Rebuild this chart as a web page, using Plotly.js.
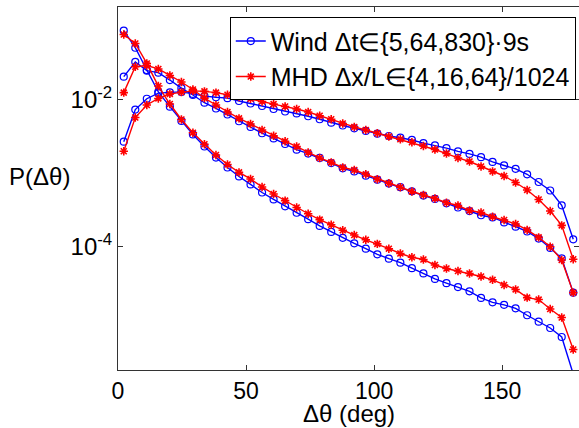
<!DOCTYPE html>
<html>
<head>
<meta charset="utf-8">
<script src="https://cdn.plot.ly/plotly-3.0.1.min.js"></script>
<style>html,body{margin:0;padding:0;background:#fff;}#chart{width:579px;height:428px;}</style>
</head>
<body>
<div id="chart"></div>
<script>
// Bin centres of the angle histogram (deg)
const dTheta = [2.25, 6.75, 11.25, 15.75, 20.25, 24.75, 29.25, 33.75, 38.25, 42.75,
  47.25, 51.75, 56.25, 60.75, 65.25, 69.75, 74.25, 78.75, 83.25, 87.75,
  92.25, 96.75, 101.25, 105.75, 110.25, 114.75, 119.25, 123.75, 128.25, 132.75,
  137.25, 141.75, 146.25, 150.75, 155.25, 159.75, 164.25, 168.75, 173.25, 177.75];

// Wind, lags 5, 64, 830 (x 9 s)
const wind5 = [8.81e-2, 5.16e-2, 2.56e-2, 1.29e-2, 8.11e-3, 5.18e-3, 3.39e-3, 2.32e-3, 1.64e-3, 1.20e-3,
  9.06e-4, 7.05e-4, 5.48e-4, 4.40e-4, 3.55e-4, 2.90e-4, 2.37e-4, 1.92e-4, 1.59e-4, 1.32e-4,
  1.11e-4, 9.38e-5, 7.87e-5, 6.85e-5, 6.04e-5, 5.08e-5, 4.32e-5, 3.63e-5, 3.18e-5, 2.81e-5,
  2.46e-5, 2.00e-5, 1.74e-5, 1.61e-5, 1.44e-5, 1.16e-5, 9.48e-6, 7.78e-6, 5.86e-6, 1.83e-6];
const wind64 = [2.08e-2, 3.30e-2, 2.51e-2, 2.36e-2, 1.87e-2, 1.45e-2, 1.17e-2, 9.18e-3, 7.66e-3, 6.34e-3,
  5.13e-3, 4.29e-3, 3.52e-3, 2.99e-3, 2.51e-3, 2.10e-3, 1.86e-3, 1.62e-3, 1.38e-3, 1.17e-3,
  1.06e-3, 9.29e-4, 8.18e-4, 7.24e-4, 6.47e-4, 5.69e-4, 4.97e-4, 4.47e-4, 3.90e-4, 3.42e-4,
  3.06e-4, 2.68e-4, 2.50e-4, 2.14e-4, 1.87e-4, 1.61e-4, 1.29e-4, 9.59e-5, 6.93e-5, 2.36e-5];
const wind830 = [2.70e-3, 7.41e-3, 1.04e-2, 1.24e-2, 1.27e-2, 1.29e-2, 1.21e-2, 1.13e-2, 1.09e-2, 1.06e-2,
  9.68e-3, 8.95e-3, 8.28e-3, 7.53e-3, 6.97e-3, 6.55e-3, 6.00e-3, 5.46e-3, 4.90e-3, 4.49e-3,
  4.11e-3, 3.78e-3, 3.47e-3, 3.23e-3, 3.06e-3, 2.85e-3, 2.58e-3, 2.40e-3, 2.21e-3, 1.99e-3,
  1.84e-3, 1.66e-3, 1.43e-3, 1.28e-3, 1.15e-3, 9.70e-4, 7.62e-4, 5.83e-4, 3.66e-4, 1.26e-4];

// MHD, separations 4, 16, 64 (/1024)
const mhd4 = [7.82e-2, 5.89e-2, 3.15e-2, 1.55e-2, 8.81e-3, 5.42e-3, 3.58e-3, 2.49e-3, 1.78e-3, 1.32e-3,
  1.03e-3, 8.38e-4, 6.52e-4, 5.22e-4, 4.24e-4, 3.42e-4, 2.81e-4, 2.34e-4, 1.99e-4, 1.67e-4,
  1.44e-4, 1.24e-4, 1.09e-4, 9.38e-5, 8.07e-5, 7.16e-5, 6.68e-5, 5.62e-5, 5.04e-5, 4.66e-5,
  4.31e-5, 3.92e-5, 3.53e-5, 3.00e-5, 2.61e-5, 2.02e-5, 1.90e-5, 1.41e-5, 1.08e-5, 3.96e-6];
const mhd16 = [1.26e-2, 2.84e-2, 2.95e-2, 2.65e-2, 2.16e-2, 1.76e-2, 1.39e-2, 1.06e-2, 8.55e-3, 6.85e-3,
  5.62e-3, 4.71e-3, 3.90e-3, 3.25e-3, 2.74e-3, 2.32e-3, 1.92e-3, 1.62e-3, 1.41e-3, 1.20e-3,
  1.11e-3, 9.70e-4, 8.30e-4, 7.31e-4, 6.46e-4, 5.65e-4, 5.06e-4, 4.54e-4, 3.97e-4, 3.64e-4,
  3.11e-4, 2.92e-4, 2.56e-4, 2.31e-4, 2.04e-4, 1.69e-4, 1.34e-4, 9.98e-5, 6.58e-5, 2.36e-5];
const mhd64 = [2.00e-3, 5.77e-3, 8.55e-3, 1.05e-2, 1.21e-2, 1.28e-2, 1.33e-2, 1.31e-2, 1.26e-2, 1.18e-2,
  1.10e-2, 1.04e-2, 9.55e-3, 8.77e-3, 8.15e-3, 7.53e-3, 6.85e-3, 6.10e-3, 5.46e-3, 4.79e-3,
  4.29e-3, 3.90e-3, 3.52e-3, 3.18e-3, 2.91e-3, 2.65e-3, 2.36e-3, 2.11e-3, 1.86e-3, 1.62e-3,
  1.45e-3, 1.24e-3, 1.06e-3, 9.20e-4, 7.50e-4, 5.93e-4, 4.40e-4, 3.06e-4, 1.95e-4, 6.73e-5];

const legendWind = 'Wind \u0394t\u2208{5,64,830}\u00b79s';
const legendMHD = 'MHD \u0394x/L\u2208{4,16,64}/1024';
const xTicks = [0, 50, 100, 150];
const yTicks = [1e-4, 1e-2];
const yTickText = ['10<sup>-4</sup>', '10<sup>-2</sup>'];

const BLUE = '#0000ff', RED = '#ff0000';
function windTrace(y, show) {
  return {x: dTheta, y: y, type: 'scatter', mode: 'lines+markers', name: legendWind,
    showlegend: show, legendgroup: 'wind',
    line: {color: BLUE, width: 1.4},
    marker: {symbol: 'circle-open', size: 7, color: BLUE, line: {color: BLUE, width: 1.2}}};
}
function mhdTrace(y, show) {
  return {x: dTheta, y: y, type: 'scatter', mode: 'lines+markers', name: legendMHD,
    showlegend: show, legendgroup: 'mhd',
    line: {color: RED, width: 1.4},
    marker: {symbol: 'asterisk-open', size: 7, color: RED, line: {color: RED, width: 1.6}}};
}
const data = [
  windTrace(wind5, true), windTrace(wind64, false), windTrace(wind830, false),
  mhdTrace(mhd4, true), mhdTrace(mhd16, false), mhdTrace(mhd64, false)
];

const axCol = '#333333';
const layout = {
  width: 579, height: 428,
  margin: {l: 118, r: 0, t: 7, b: 58, pad: 0},
  paper_bgcolor: '#ffffff', plot_bgcolor: '#ffffff',
  font: {family: '"Liberation Sans", Arial, sans-serif', size: 24, color: '#000'},
  xaxis: {range: [0, 180], tickvals: xTicks, ticks: 'inside', ticklen: 5, tickcolor: axCol,
    showline: true, linecolor: axCol, linewidth: 1, mirror: 'ticks', showgrid: false, zeroline: false,
    tickfont: {size: 23}},
  yaxis: {type: 'log', range: [-5.682, -0.732], tickvals: yTicks, ticktext: yTickText,
    ticks: 'inside', ticklen: 5, tickcolor: axCol, showline: true, linecolor: axCol, linewidth: 1,
    mirror: 'ticks', showgrid: false, zeroline: false, tickfont: {size: 24}},
  showlegend: true,
  legend: {x: 0.993, xanchor: 'right', y: 0.9716, yanchor: 'top', bgcolor: '#ffffff',
    bordercolor: '#000', borderwidth: 1, font: {size: 25}, traceorder: 'normal'},
  annotations: [
    {text: 'P(\u0394\u03b8)', xref: 'paper', yref: 'paper', x: -0.171, y: 0.5325,
     xanchor: 'center', yanchor: 'middle', showarrow: false, font: {size: 24}},
    {text: '\u0394\u03b8 (deg)', xref: 'paper', yref: 'paper', x: 0.5, y: -0.1185,
     xanchor: 'center', yanchor: 'middle', showarrow: false, font: {size: 24}, borderpad: 0}
  ]
};
Plotly.newPlot('chart', data, layout, {staticPlot: true, displayModeBar: false});
</script>
</body>
</html>
